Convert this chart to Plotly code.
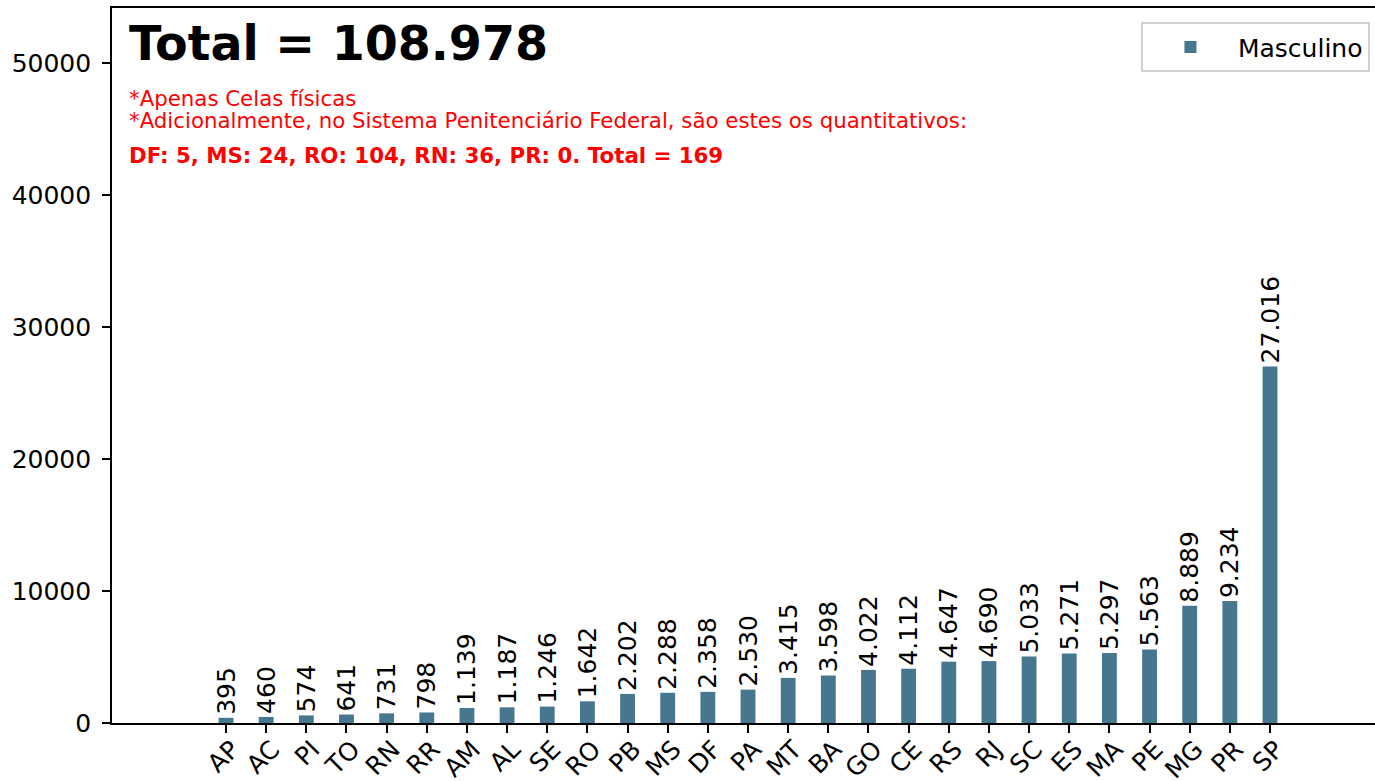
import plotly.graph_objects as go

estados = ["AP", "AC", "PI", "TO", "RN", "RR", "AM", "AL", "SE", "RO", "PB", "MS", "DF",
           "PA", "MT", "BA", "GO", "CE", "RS", "RJ", "SC", "ES", "MA", "PE", "MG", "PR", "SP"]
masculino = [395, 460, 574, 641, 731, 798, 1139, 1187, 1246, 1642, 2202, 2288, 2358,
             2530, 3415, 3598, 4022, 4112, 4647, 4690, 5033, 5271, 5297, 5563, 8889, 9234, 27016]
y_ticks = [0, 10000, 20000, 30000, 40000, 50000]

nota1 = "*Apenas Celas físicas"
nota2 = "*Adicionalmente, no Sistema Penitenciário Federal, são estes os quantitativos:"
nota3 = "DF: 5, MS: 24, RO: 104, RN: 36, PR: 0. Total = 169"


def fmt(v):
    return f"{v:,}".replace(",", ".")


total = sum(masculino)
FONT = "DejaVu Sans"
COR = "#46778f"

fig = go.Figure()
fig.add_trace(go.Bar(
    x=estados, y=masculino, name="Masculino",
    marker=dict(color=COR, line=dict(width=0)),
    width=0.37,
    text=[fmt(v) for v in masculino],
    textposition="outside", textangle=-90,
    constraintext="none", cliponaxis=False,
    textfont=dict(family=FONT, size=25, color="black"),
))

fig.update_layout(
    width=1375, height=781,
    margin=dict(l=112, r=0, t=8, b=58, autoexpand=False),
    plot_bgcolor="white", paper_bgcolor="white",
    font=dict(family=FONT, size=25, color="black"),
    showlegend=True,
    legend=dict(
        x=0.996, y=0.980, xanchor="right", yanchor="top",
        bgcolor="white", bordercolor="#d0d0d0", borderwidth=2,
        font=dict(family=FONT, size=25),
        itemwidth=85,
    ),
    xaxis=dict(
        range=[-2.84, 28.615],
        showline=True, linecolor="black", linewidth=1.6, mirror=True,
        ticks="outside", ticklen=8, tickwidth=1.6, tickcolor="black",
        tickangle=-45, showgrid=False, zeroline=False,
        ticklabelstandoff=-8, ticklabelshift=6,
        tickfont=dict(family=FONT, size=25),
    ),
    yaxis=dict(
        range=[0, 54170],
        tickvals=y_ticks, ticktext=[str(t) for t in y_ticks],
        showline=True, linecolor="black", linewidth=1.6,
        ticks="outside", ticklen=8, tickwidth=1.6, tickcolor="black",
        showgrid=False, zeroline=False,
        ticklabelstandoff=6,
        tickfont=dict(family=FONT, size=25),
    ),
)

fig.add_annotation(
    xref="x domain", yref="y domain", x=0.012, y=0.9497,
    xanchor="left", yanchor="middle", showarrow=False,
    text="<b>Total = " + fmt(total) + "</b>",
    font=dict(family=FONT, size=47.5, color="black"),
)
fig.add_annotation(
    xref="x domain", yref="y domain", x=0.012, y=0.874,
    xanchor="left", yanchor="middle", showarrow=False,
    text=nota1, font=dict(family=FONT, size=21.3, color="red"),
)
fig.add_annotation(
    xref="x domain", yref="y domain", x=0.012, y=0.842,
    xanchor="left", yanchor="middle", showarrow=False,
    text=nota2, font=dict(family=FONT, size=21.3, color="red"),
)
fig.add_annotation(
    xref="x domain", yref="y domain", x=0.012, y=0.7944,
    xanchor="left", yanchor="middle", showarrow=False,
    text="<b>" + nota3 + "</b>", font=dict(family=FONT, size=21.3, color="red"),
)

fig.write_html(
    "out.html",
    config={"displayModeBar": False},
    post_script="document.body.style.margin='0';document.body.style.overflow='hidden';",
)
